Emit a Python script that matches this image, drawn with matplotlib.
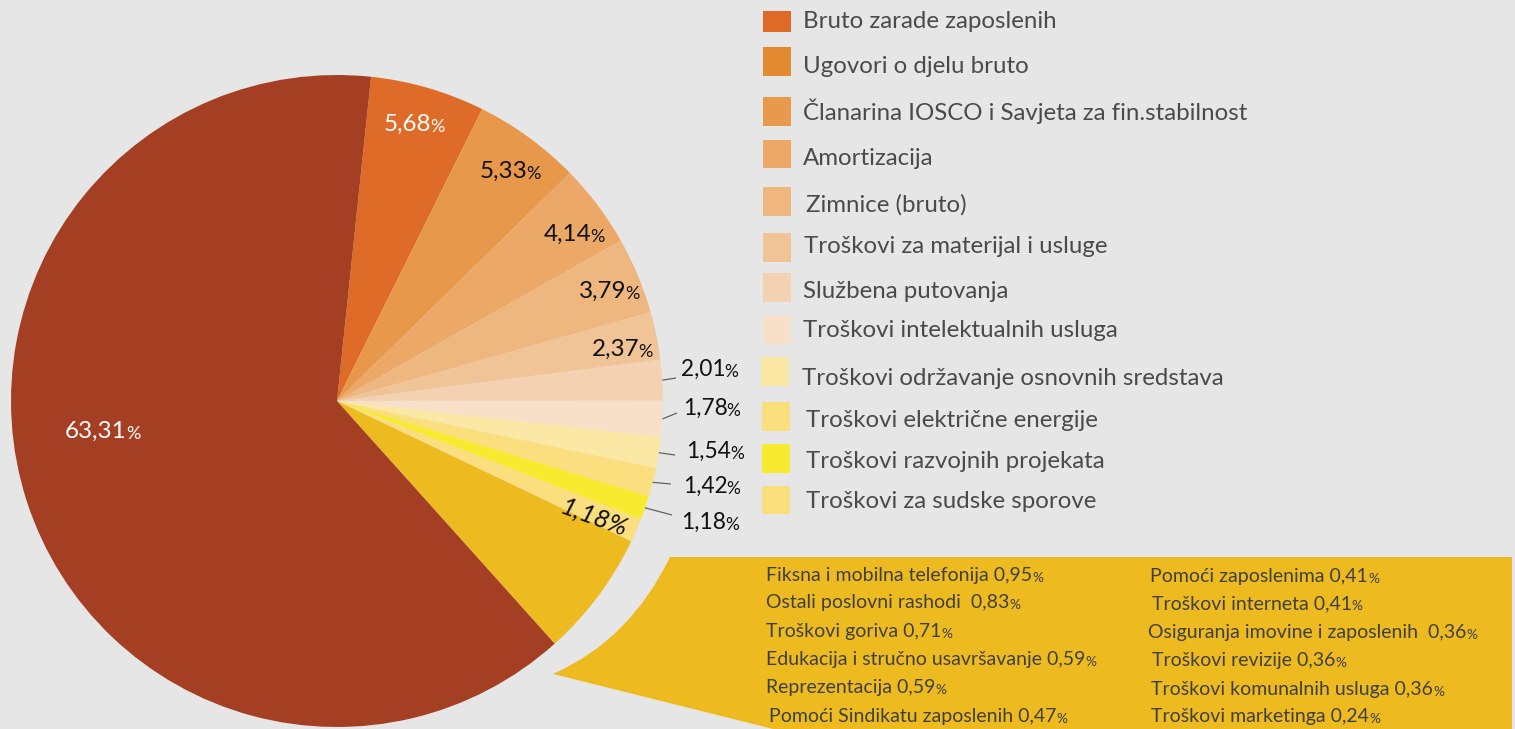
import numpy as np
import matplotlib
matplotlib.use("Agg")
import matplotlib.pyplot as plt
from matplotlib.patches import Rectangle, PathPatch
from matplotlib.path import Path

# ---------------- data ----------------
categories = [
    "Bruto zarade zaposlenih",
    "Ugovori o djelu bruto",
    "Članarina IOSCO i Savjeta za fin.stabilnost",
    "Amortizacija",
    "Zimnice (bruto)",
    "Troškovi za materijal i usluge",
    "Službena putovanja",
    "Troškovi intelektualnih usluga",
    "Troškovi održavanje osnovnih sredstava",
    "Troškovi električne energije",
    "Troškovi razvojnih projekata",
    "Troškovi za sudske sporove",
]
shares = [63.31, 5.68, 5.33, 4.14, 3.79, 2.37, 2.01, 1.78, 1.54, 1.42, 1.18, 1.18]

other_left_names = [
    "Fiksna i mobilna telefonija",
    "Ostali poslovni rashodi ",
    "Troškovi goriva",
    "Edukacija i stručno usavršavanje",
    "Reprezentacija",
    "Pomoći Sindikatu zaposlenih",
]
other_left_shares = [0.95, 0.83, 0.71, 0.59, 0.59, 0.47]
other_right_names = [
    "Pomoći zaposlenima",
    "Troškovi interneta",
    "Osiguranja imovine i zaposlenih ",
    "Troškovi revizije",
    "Troškovi komunalnih usluga",
    "Troškovi marketinga",
]
other_right_shares = [0.41, 0.41, 0.36, 0.36, 0.36, 0.24]

# ---------------- style ----------------
W, H = 1515, 729
BG = "#E6E6E6"
slice_colors = ["#DF6B28", "#E8984B", "#ECA867", "#EEB77F", "#F0C497", "#F4D1B1",
                "#F7DFC8", "#FCE8A5", "#FBDF7F", "#F7EA2F", "#FBDF7F", "#EDBA1F", "#A43F23"]
legend_colors = ["#DF6A28", "#E48A33", "#E9994C", "#EDA868", "#EFB67E", "#F0C497",
                 "#F4D1B1", "#F7DFC8", "#FCE8A5", "#FBDF7F", "#F7EA2F", "#FBDF7F"]
OTHER_COLOR = "#EDBA1F"
FONT = ["Lato", "DejaVu Sans"]

def Y(y):
    return H - y

def fmt(v):
    return f"{v:.2f}".replace(".", ",")

fig = plt.figure(figsize=(W / 100, H / 100), dpi=100, facecolor=BG)
ax = fig.add_axes([0, 0, 1, 1])
ax.set_facecolor(BG)

# ---------------- pie ----------------
other_total = sum(other_left_shares) + sum(other_right_shares)
pie_vals = shares[1:] + [other_total] + [shares[0]]
CX, CY, R = 337, Y(401), 326
wedges, _ = ax.pie(pie_vals, colors=slice_colors, startangle=84.0, counterclock=False,
                   center=(CX, CY), radius=R, frame=True,
                   wedgeprops=dict(linewidth=0, antialiased=True))

ax.set_xlim(0, W)
ax.set_ylim(0, H)
ax.set_aspect("equal")
ax.axis("off")

def pct_label(x_split, y_base, num, size, psize, color):
    t = ax.text(x_split, Y(y_base), num, ha="right", va="baseline", fontsize=size,
                color=color, family=FONT)
    ax.annotate("%", xy=(1, 0), xycoords=t, xytext=(-0.8, 0), textcoords="offset points",
                ha="left", va="bottom", fontsize=psize, color=color, family=FONT)
    return t

# inside labels: (split x, baseline y)
inside_pos = [(127, 437.7), (431.5, 130.7), (527, 178.3), (591, 240.7), (626.5, 298.3), (639.5, 356)]
inside_col = ["white", "white", "#111111", "#111111", "#111111", "#111111"]
for i, (xs, yb) in enumerate(inside_pos):
    pct_label(xs, yb, fmt(shares[i]), 17.5, 13, inside_col[i])

# outside labels with leader lines (indices 6..10)
outside_pos = [(681, 376), (683, 415), (686, 458), (683, 493), (681, 529)]
leader_end = [(676, 378), (677, 413), (675, 455), (671, 484), (672, 515)]
for k, idx in enumerate(range(6, 11)):
    w = wedges[idx - 1]
    mid = np.deg2rad((w.theta1 + w.theta2) / 2)
    x0, y0 = CX + R * np.cos(mid), CY + R * np.sin(mid)
    ex, ey = leader_end[k]
    ax.plot([x0, ex], [y0, Y(ey)], color="#606060", lw=0.9, solid_capstyle="butt")
    lx, lb = outside_pos[k]
    t = ax.text(lx, Y(lb), fmt(shares[idx]), ha="left", va="baseline", fontsize=16.3,
                color="#111111", family=FONT)
    ax.annotate("%", xy=(1, 0), xycoords=t, xytext=(-0.8, 0), textcoords="offset points",
                ha="left", va="bottom", fontsize=12.5, color="#111111", family=FONT)

# italic label inside last small slice
w = wedges[10]
mid = np.deg2rad((w.theta1 + w.theta2) / 2 - 1.0)
ax.text(CX + 0.865 * R * np.cos(mid), CY + 0.865 * R * np.sin(mid),
        fmt(shares[11]) + "%", ha="center", va="center", fontsize=18.5, style="italic",
        rotation=-20, color="#111111", family=FONT, rotation_mode="anchor")

# ---------------- legend ----------------
leg_boxes = [(763, 11, 32), (763, 47, 76), (763, 97, 126), (763, 140, 168), (763, 187, 216),
             (763, 233, 262), (763, 273, 302), (763, 316, 344), (761, 357, 386),
             (762, 402, 431), (762, 444, 473), (762, 486, 514)]
leg_text = [(803, 28.3), (803, 73.3), (803, 120), (803, 165), (806.5, 211.7), (804, 253.3),
            (803, 298.3), (803, 336.7), (801.5, 385), (806.5, 427.3), (806.5, 468.3), (806.5, 508.3)]
for i, name in enumerate(categories):
    bx, by0, by1 = leg_boxes[i]
    ax.add_patch(Rectangle((bx, Y(by1)), 28, by1 - by0, facecolor=legend_colors[i], lw=0))
    tx, tb = leg_text[i]
    ax.text(tx, Y(tb), name, ha="left", va="baseline", fontsize=17.3, color="#4A4A4A", family=FONT)

# ---------------- callout ----------------
verts = [(553, 674), (630, 640), (670, 557), (1512, 557), (1512, 729), (773, 729), (553, 674)]
codes = [Path.MOVETO, Path.CURVE3, Path.CURVE3, Path.LINETO, Path.LINETO, Path.LINETO, Path.CLOSEPOLY]
verts = [(x, Y(y)) for x, y in verts]
ax.add_patch(PathPatch(Path(verts, codes), facecolor=OTHER_COLOR, lw=0))

left_pos = [(766, 581), (766.5, 608), (766, 636.7), (766, 665), (766, 693), (769, 721.7)]
right_pos = [(1150.5, 581.7), (1151.5, 609), (1148.3, 638.3), (1151.5, 665.7), (1151, 695), (1151, 721.7)]

def callout_row(x, yb, name, val):
    t = ax.text(x, Y(yb), f"{name} {fmt(val)}", ha="left", va="baseline", fontsize=14.0,
                color="#404040", family=FONT)
    ax.annotate("%", xy=(1, 0), xycoords=t, xytext=(0, 0), textcoords="offset points",
                ha="left", va="bottom", fontsize=9.8, color="#404040", family=FONT)

for (x, yb), n, v in zip(left_pos, other_left_names, other_left_shares):
    callout_row(x, yb, n, v)
for (x, yb), n, v in zip(right_pos, other_right_names, other_right_shares):
    callout_row(x, yb, n, v)

fig.savefig("out.png", dpi=100, facecolor=BG)
